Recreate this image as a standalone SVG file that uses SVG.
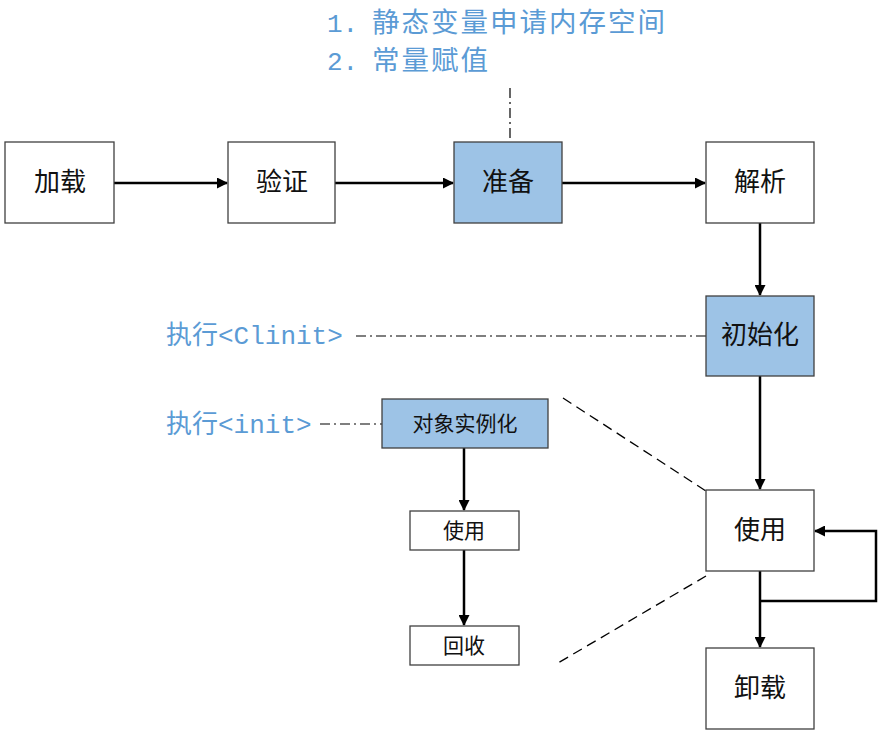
<svg xmlns="http://www.w3.org/2000/svg" width="881" height="741" viewBox="0 0 881 741">
<defs>
<style>
.box{fill:#fff;stroke:#404040;stroke-width:1.3}
.blue{fill:#9DC3E6;stroke:#404040;stroke-width:1.3}
.t{font-family:"Liberation Serif","Noto Sans CJK SC",serif;font-size:26px;fill:#111;text-anchor:middle;dominant-baseline:central}
.ts{font-family:"Liberation Sans","Noto Sans CJK SC",sans-serif;font-size:21px;fill:#111;text-anchor:middle;dominant-baseline:central}
.note{font-family:"Liberation Mono","Noto Sans CJK SC",monospace;font-size:26px;fill:#5B9BD5}
.cj{font-size:27.5px;letter-spacing:2px}
.arr{stroke:#000;stroke-width:2.5;fill:none}
.dd{stroke:#000;stroke-width:1.2;fill:none;stroke-dasharray:10 4 2 4}
.da{stroke:#000;stroke-width:1.3;fill:none;stroke-dasharray:10 6}
</style>
<marker id="ah" markerWidth="11" markerHeight="11" refX="10" refY="5.5" orient="auto" markerUnits="userSpaceOnUse" viewBox="0 0 11 11">
<path d="M0,0 L11,5.5 L0,11 z" fill="#000"/>
</marker>
</defs>
<g id="notes">
<text class="note" x="327" y="32">1.<tspan class="cj" x="372">静态变量申请内存空间</tspan></text>
<text class="note" x="327" y="70">2.<tspan class="cj" x="372">常量赋值</tspan></text>
<text class="note" x="166" y="344">执行&lt;Clinit&gt;</text>
<text class="note" x="166" y="433">执行&lt;init&gt;</text>
</g>
<g id="connectors">
<line class="arr" x1="114" y1="183" x2="227" y2="183" marker-end="url(#ah)"/>
<line class="arr" x1="335" y1="183" x2="453" y2="183" marker-end="url(#ah)"/>
<line class="arr" x1="562" y1="183" x2="705" y2="183" marker-end="url(#ah)"/>
<line class="arr" x1="760" y1="223" x2="760" y2="295" marker-end="url(#ah)"/>
<line class="arr" x1="760" y1="376" x2="760" y2="489" marker-end="url(#ah)"/>
<line class="arr" x1="760" y1="571" x2="760" y2="647" marker-end="url(#ah)"/>
<polyline class="arr" points="760,601 876,601 876,531 815,531" marker-end="url(#ah)"/>
<line class="arr" x1="464" y1="448" x2="464" y2="510" marker-end="url(#ah)"/>
<line class="arr" x1="464" y1="550" x2="464" y2="625" marker-end="url(#ah)"/>
<line class="dd" x1="510" y1="88" x2="510" y2="142"/>
<line class="dd" x1="356" y1="336" x2="706" y2="336"/>
<line class="dd" x1="320" y1="424" x2="382" y2="424"/>
<line class="da" x1="563" y1="398" x2="706" y2="491"/>
<line class="da" x1="706" y1="576" x2="558" y2="663"/>
</g>
<g id="n-load"><rect class="box" x="5" y="142" width="109" height="81"/><text class="t" x="60" y="182">加载</text></g>
<g id="n-verify"><rect class="box" x="228" y="142" width="107" height="81"/><text class="t" x="282" y="182">验证</text></g>
<g id="n-prepare"><rect class="blue" x="454" y="142" width="108" height="81"/><text class="t" x="508" y="182">准备</text></g>
<g id="n-resolve"><rect class="box" x="706" y="142" width="108" height="81"/><text class="t" x="760" y="182">解析</text></g>
<g id="n-init"><rect class="blue" x="706" y="296" width="108" height="80"/><text class="t" x="760" y="335">初始化</text></g>
<g id="n-use"><rect class="box" x="706" y="490" width="108" height="81"/><text class="t" x="760" y="530">使用</text></g>
<g id="n-unload"><rect class="box" x="706" y="648" width="108" height="81"/><text class="t" x="760" y="688">卸载</text></g>
<g id="n-inst"><rect class="blue" x="382" y="399" width="166" height="49"/><text class="ts" x="465" y="423">对象实例化</text></g>
<g id="n-use2"><rect class="box" x="410" y="511" width="109" height="39"/><text class="ts" x="464" y="530">使用</text></g>
<g id="n-gc"><rect class="box" x="410" y="626" width="109" height="39"/><text class="ts" x="464" y="645">回收</text></g>
</svg>
